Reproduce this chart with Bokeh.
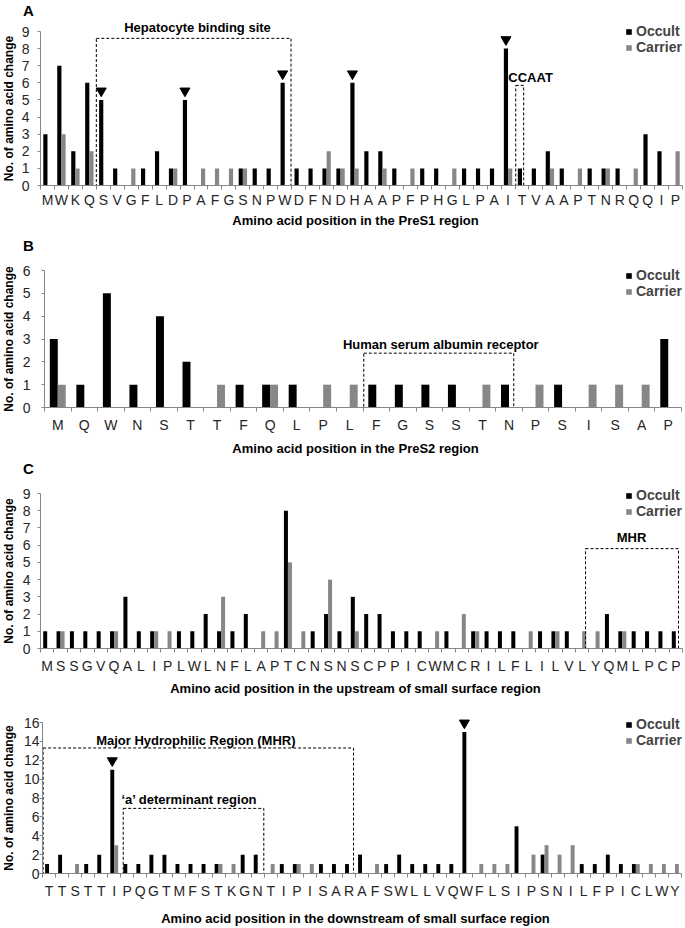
import math
import numpy as np
from bokeh.plotting import figure
from bokeh.models import Range1d, FixedTicker, Label, Legend, LegendItem
from bokeh.layouts import column
from bokeh.embed import file_html
from bokeh.resources import INLINE

FONT = "Liberation Sans"
AXIS_COLOR = "#868686"
GRAY = "#878787"

# ---------------- data ----------------
a_labels = list("MWKQSVGFLDPAFGSNPWDFNDHAAPFPHGLPAITVAAPTNRQQIP")
a_occult = [3, 7, 2, 6, 5, 1, 0, 1, 2, 1, 5, 0, 0, 0, 1, 1, 1, 6, 1, 1,
            1, 1, 6, 2, 2, 1, 0, 1, 1, 0, 1, 1, 1, 8, 1, 1, 2, 1, 0, 1,
            1, 1, 0, 3, 2, 0]
a_carrier = [0, 3, 1, 2, 0, 0, 1, 0, 0, 1, 0, 1, 1, 1, 1, 0, 0, 0, 0, 0,
             2, 1, 1, 0, 1, 0, 1, 0, 0, 1, 0, 0, 0, 1, 0, 0, 1, 0, 1, 0,
             1, 0, 1, 0, 0, 2]
a_marked = [4, 10, 17, 22, 33]

b_labels = list("MQWNSTTFQLPLFGSSTNPSISAP")
b_occult = [3, 1, 5, 1, 4, 2, 0, 1, 1, 1, 0, 0, 1, 1, 1, 1, 0, 1, 0, 1,
            0, 0, 0, 3]
b_carrier = [1, 0, 0, 0, 0, 0, 1, 0, 1, 0, 1, 1, 0, 0, 0, 0, 1, 0, 1, 0,
             1, 1, 1, 0]

c_labels = list("MSSGVQALIPLWLNFLAPTCNSNSCPPICWMCRILFLILVLYQMLPCP")
c_occult = [1, 1, 1, 1, 1, 1, 3, 1, 1, 0, 1, 1, 2, 1, 1, 2, 0, 0, 8, 0,
            1, 2, 1, 3, 2, 2, 1, 1, 1, 0, 1, 0, 1, 1, 1, 1, 0, 1, 1, 1,
            0, 0, 2, 1, 1, 1, 1, 1]
c_carrier = [0, 1, 0, 0, 0, 1, 0, 0, 1, 1, 0, 0, 0, 3, 0, 0, 1, 1, 5, 1,
             0, 4, 0, 1, 0, 0, 0, 0, 0, 1, 0, 2, 1, 0, 0, 0, 1, 0, 1, 0,
             1, 1, 0, 1, 0, 0, 0, 0]

d_labels = list("TTSTTIPQGTMFSTKGNTIPISARAFSWLLVQWFLSIPSNILFPICLWY")
d_occult = [1, 2, 0, 1, 2, 11, 1, 1, 2, 2, 1, 1, 1, 1, 0, 2, 2, 0, 1, 1,
            0, 1, 1, 1, 2, 0, 1, 2, 1, 1, 1, 1, 15, 0, 0, 0, 5, 0, 2, 0,
            0, 1, 1, 2, 1, 1, 0, 0, 0]
d_carrier = [0, 0, 1, 0, 0, 3, 0, 0, 0, 0, 0, 0, 0, 1, 1, 0, 0, 1, 0, 1,
             1, 0, 0, 0, 0, 1, 0, 0, 0, 0, 0, 0, 0, 1, 1, 1, 0, 2, 3, 2,
             3, 0, 0, 0, 0, 1, 1, 1, 1]
d_marked = [5, 32]

y_title = "No. of amino acid change"
W = 685


def make_panel(labels, occ, car, *, H, figtop, base, ymax, ytop_px, ystep,
               fl, fr, xtitle, xtitle_py, lab_so, ylab_so, legend_py,
               spacing, letter=None, letter_py=None, marked=None):
    n = len(labels)
    sp = (fr - fl) / n
    ppu = (base - ytop_px) / ymax

    def px2x(px):
        return -0.5 + (px - fl) / sp

    def py2y(py):
        return (base - py) / ppu

    p = figure(width=W, height=H, output_backend="svg", toolbar_location=None,
               x_range=Range1d(px2x(0), px2x(W)),
               y_range=Range1d(py2y(figtop + H), py2y(figtop)),
               min_border_left=0, min_border_right=0,
               min_border_top=0, min_border_bottom=0)
    p.outline_line_color = None
    p.xgrid.visible = False
    p.ygrid.visible = False

    xs = np.arange(n)
    rb = p.vbar(x=xs - 0.15, top=occ, width=0.3, bottom=0,
                fill_color="black", line_color=None)
    rg = p.vbar(x=xs + 0.15, top=car, width=0.3, bottom=0,
                fill_color=GRAY, line_color=None)

    if marked:
        off = 9.0 / ppu
        p.scatter(x=[i - 0.15 for i in marked], y=[occ[i] + off for i in marked],
                  marker="inverted_triangle", size=10, fill_color="black",
                  line_color="black")

    # x axis (drawn at y = 0)
    xa = p.xaxis[0]
    xa.fixed_location = 0
    xa.bounds = (-0.5, n - 0.5)
    xa.ticker = FixedTicker(ticks=list(range(n)),
                            minor_ticks=[i - 0.5 for i in range(n + 1)])
    xa.major_label_overrides = {i: lab for i, lab in enumerate(labels)}
    xa.major_tick_out = 0
    xa.major_tick_in = 0
    xa.minor_tick_out = 4
    xa.minor_tick_in = 0
    xa.minor_tick_line_color = AXIS_COLOR
    xa.axis_line_color = AXIS_COLOR
    xa.major_label_text_font = FONT
    xa.major_label_text_font_size = "14px"
    xa.major_label_text_color = "#262626"
    xa.major_label_standoff = lab_so

    # y axis (drawn at x = -0.5)
    ya = p.yaxis[0]
    ya.fixed_location = -0.5
    ya.ticker = FixedTicker(ticks=list(range(0, ymax + 1, ystep)))
    ya.bounds = (0, ymax)
    ya.major_tick_out = 3
    ya.major_tick_in = 0
    ya.minor_tick_out = 0
    ya.minor_tick_in = 0
    ya.major_tick_line_color = AXIS_COLOR
    ya.axis_line_color = AXIS_COLOR
    ya.major_label_text_font = FONT
    ya.major_label_text_font_size = "14px"
    ya.major_label_text_color = "#262626"
    ya.major_label_standoff = ylab_so

    # axis titles
    p.add_layout(Label(x=px2x(8), y=ymax / 2, text=y_title, angle=math.pi / 2,
                       text_align="center", text_baseline="middle",
                       text_font=FONT, text_font_style="bold",
                       text_font_size="12px", text_color="black"))
    p.add_layout(Label(x=px2x(355), y=py2y(xtitle_py), text=xtitle,
                       text_align="center", text_baseline="middle",
                       text_font=FONT, text_font_style="bold",
                       text_font_size="13px", text_color="black"))
    if letter:
        p.add_layout(Label(x=px2x(28), y=py2y(letter_py), text=letter,
                           text_align="center", text_baseline="middle",
                           text_font=FONT, text_font_style="bold",
                           text_font_size="15px", text_color="black"))

    legend = Legend(items=[LegendItem(label="Occult", renderers=[rb]),
                           LegendItem(label="Carrier", renderers=[rg])],
                    location=(625, (figtop + H) - (legend_py + 10)),
                    orientation="vertical", padding=0, margin=0, spacing=spacing,
                    glyph_width=7, glyph_height=7, label_standoff=4,
                    label_height=10, label_width=52, label_text_font=FONT,
                    label_text_font_style="bold", label_text_font_size="14px",
                    border_line_color=None, background_fill_alpha=0)
    p.add_layout(legend)
    return p


def box(p, x0, x1, top):
    p.quad(left=[x0], right=[x1], bottom=[0], top=[top], fill_color=None,
           line_color="black", line_dash="3 2", line_width=1)


def note(p, x, y, text, align="center", size="13px"):
    p.add_layout(Label(x=x, y=y, text=text, text_align=align, text_baseline="middle",
                       text_font=FONT, text_font_style="bold", text_font_size=size,
                       text_color="black"))


# Panel A
pA = make_panel(a_labels, a_occult, a_carrier, H=232, figtop=0, base=185,
                ymax=9, ytop_px=31, ystep=1, fl=40, fr=682,
                xtitle="Amino acid position in the PreS1 region", xtitle_py=220,
                lab_so=2, ylab_so=8, legend_py=45, spacing=-2,
                letter="A", letter_py=10, marked=a_marked)
box(pA, 3.5, 17.45, 8.6)
box(pA, 33.55, 34.12, 5.85)
note(pA, 10.75, 9.23, "Hepatocyte binding site")
note(pA, 33.02, 6.31, "CCAAT", align="left")

# Panel B
pB = make_panel(b_labels, b_occult, b_carrier, H=226, figtop=232, base=407,
                ymax=6, ytop_px=270, ystep=1, fl=44, fr=681,
                xtitle="Amino acid position in the PreS2 region", xtitle_py=448,
                lab_so=5, ylab_so=11, legend_py=289, spacing=0,
                letter="B", letter_py=245)
box(pB, 11.53, 17.18, 2.38)
note(pB, 14.43, 2.76, "Human serum albumin receptor")

# Panel C
pC = make_panel(c_labels, c_occult, c_carrier, H=242, figtop=458, base=648,
                ymax=9, ytop_px=493, ystep=1, fl=40, fr=682,
                xtitle="Amino acid position in the upstream of small surface region",
                xtitle_py=688, lab_so=5, ylab_so=7, legend_py=509, spacing=-4,
                letter="C", letter_py=468)
box(pC, 40.25, 47.2, 5.8)
note(pC, 43.69, 6.45, "MHR")

# Panel D
pD = make_panel(d_labels, d_occult, d_carrier, H=228, figtop=700, base=873,
                ymax=16, ytop_px=722, ystep=2, fl=42, fr=681,
                xtitle="Amino acid position in the downstream of small surface region",
                xtitle_py=918, lab_so=5, ylab_so=0, legend_py=738, spacing=-3,
                marked=d_marked)
box(pD, -0.45, 23.35, 13.3)
box(pD, 5.69, 16.47, 6.9)
note(pD, 11.26, 14.09, "Major Hydrophilic Region (MHR)")
note(pD, 10.76, 7.84, "\u2018a\u2019 determinant region")

layout = column(pA, pB, pC, pD, spacing=0)
open("out.html", "w").write(file_html(layout, INLINE))
